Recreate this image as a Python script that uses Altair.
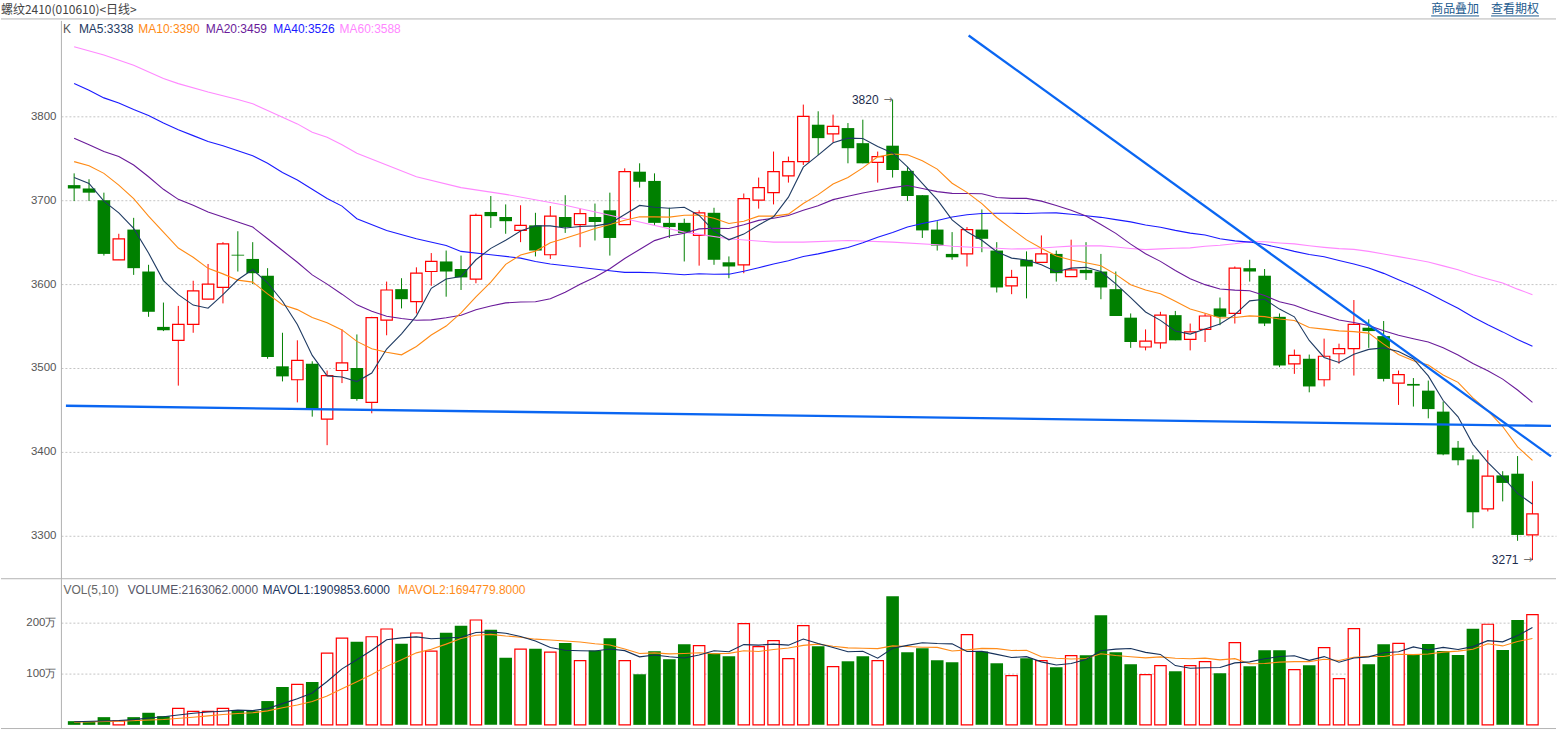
import altair as alt
import pandas as pd

# ---------------- data ----------------
opens = [3718, 3714, 3700, 3629, 3665, 3615, 3549, 3533, 3552, 3582,
         3596, 3635, 3630, 3610, 3502, 3486, 3505, 3439, 3497, 3500,
         3459, 3557, 3594, 3579, 3615, 3627, 3618, 3606, 3686, 3680,
         3664, 3670, 3635, 3680, 3671, 3680, 3688, 3671, 3734, 3723,
         3673, 3673, 3658, 3685, 3626, 3623, 3700, 3709, 3729, 3746,
         3790, 3779, 3786, 3768, 3745, 3765, 3735, 3706, 3665, 3636,
         3636, 3665, 3640, 3598, 3629, 3626, 3636, 3609, 3617, 3615,
         3594, 3560, 3525, 3530, 3563, 3534, 3546, 3571, 3565, 3619,
         3610, 3561, 3505, 3511, 3486, 3517, 3523, 3548, 3538, 3482,
         3481, 3473, 3448, 3405, 3391, 3332, 3372, 3374, 3301]
highs = [3732, 3725, 3709, 3660, 3679, 3623, 3578, 3574, 3604, 3624,
         3650, 3663, 3650, 3619, 3542, 3533, 3508, 3497, 3546, 3540,
         3561, 3603, 3607, 3620, 3637, 3640, 3634, 3684, 3705, 3695,
         3694, 3685, 3693, 3706, 3690, 3696, 3709, 3738, 3744, 3732,
         3691, 3678, 3688, 3691, 3633, 3708, 3727, 3758, 3752, 3814,
         3806, 3802, 3792, 3796, 3758, 3820, 3740, 3706, 3675, 3662,
         3668, 3689, 3650, 3617, 3639, 3658, 3640, 3653, 3650, 3636,
         3615, 3565, 3546, 3567, 3568, 3553, 3565, 3584, 3621, 3629,
         3618, 3565, 3522, 3516, 3535, 3529, 3581, 3558, 3556, 3497,
         3488, 3485, 3460, 3413, 3396, 3402, 3377, 3395, 3365]
lows = [3699, 3699, 3634, 3629, 3611, 3561, 3544, 3479, 3542, 3582,
        3577, 3615, 3600, 3511, 3484, 3459, 3442, 3408, 3482, 3461,
        3446, 3539, 3571, 3565, 3598, 3585, 3593, 3601, 3667, 3660,
        3650, 3633, 3630, 3661, 3644, 3652, 3634, 3671, 3715, 3670,
        3655, 3627, 3622, 3623, 3607, 3613, 3690, 3695, 3721, 3742,
        3754, 3769, 3744, 3744, 3721, 3727, 3699, 3655, 3640, 3629,
        3621, 3638, 3590, 3588, 3583, 3626, 3603, 3609, 3605, 3582,
        3562, 3524, 3521, 3523, 3533, 3521, 3531, 3551, 3553, 3603,
        3550, 3501, 3493, 3471, 3478, 3505, 3491, 3524, 3484, 3456,
        3454, 3440, 3396, 3384, 3309, 3329, 3341, 3294, 3271]
closes = [3714, 3709, 3636, 3654, 3619, 3567, 3545, 3552, 3592, 3600,
          3648, 3634, 3613, 3513, 3490, 3509, 3450, 3491, 3506, 3463,
          3560, 3593, 3582, 3613, 3627, 3615, 3608, 3682, 3681, 3675,
          3670, 3640, 3681, 3668, 3684, 3674, 3655, 3734, 3722, 3673,
          3668, 3661, 3685, 3629, 3621, 3702, 3715, 3734, 3746, 3800,
          3774, 3788, 3762, 3744, 3752, 3736, 3705, 3664, 3646, 3632,
          3665, 3654, 3596, 3608, 3621, 3636, 3613, 3617, 3613, 3596,
          3562, 3531, 3532, 3563, 3533, 3543, 3562, 3561, 3619, 3615,
          3553, 3503, 3515, 3478, 3514, 3523, 3552, 3544, 3487, 3492,
          3479, 3451, 3397, 3390, 3328, 3371, 3363, 3301, 3326]
# volume in 万 (10k lots)
volumes = [7.2, 5.9, 15.1, 7.9, 15.1, 23.7, 17.1, 32.2, 26.3, 26.3,
           32.2, 27.6, 27.6, 46.7, 74.3, 79.6, 84.2, 140.8, 170.4, 163.2,
           173.0, 188.2, 159.2, 180.3, 144.7, 180.9, 194.7, 205.9, 186.8, 131.6,
           148.7, 149.3, 142.6, 160.6, 126.1, 145.8, 169.9, 126.1, 99.3, 144.4,
           128.8, 158.2, 155.6, 140.5, 134.6, 198.7, 153.6, 165.4, 130.1, 194.8,
           154.2, 114.4, 124.8, 134.6, 126.1, 252.3, 142.5, 150.3, 126.8, 122.9,
           177.1, 143.8, 120.9, 96.7, 130.7, 126.1, 113.1, 135.9, 136.6, 215.0,
           142.5, 119.0, 98.7, 116.3, 105.2, 116.3, 124.2, 101.3, 161.4, 115.0,
           146.4, 146.4, 108.5, 117.0, 151.6, 90.8, 188.9, 119.0, 158.2, 160.0,
           139.0, 158.5, 145.0, 137.0, 188.5, 197.5, 147.0, 206.0, 216.3]

ma5_early_i = [0, 1, 2, 3]
ma5_early_v = [3727, 3720, 3699, 3685]
ma10_early_i = [0, 1, 2, 3, 4, 5, 6, 7, 8]
ma10_early_v = [3746, 3741, 3732, 3718, 3702, 3681, 3662, 3643, 3632]
ma20_early_i = list(range(19))
ma20_early_v = [3774, 3766, 3758, 3752, 3742, 3728, 3713, 3701, 3694, 3686,
                3680, 3674, 3668, 3654, 3640, 3626, 3611, 3600, 3588]
ma40_early_i = [0, 1, 2, 3, 4, 5, 6, 7, 8, 9, 10, 11, 12, 13, 14, 15, 16, 17, 18, 19,
                21, 23, 25, 26, 28, 30, 31, 32, 36, 37, 38]
ma40_early_v = [3839, 3831, 3822, 3816, 3808, 3801, 3792, 3784, 3777, 3770, 3765, 3759,
                3753, 3744, 3733, 3724, 3713, 3702, 3693, 3678,
                3664, 3654, 3646, 3639, 3635, 3631, 3627, 3624, 3616, 3614, 3614]
ma60_early_i = [0, 2, 4, 6, 7, 9, 11, 12, 13, 14, 15, 16, 17, 18, 19,
                21, 23, 26, 29, 33, 36, 38, 41, 44, 47, 49, 52, 55, 58]
ma60_early_v = [3883, 3873, 3861, 3845, 3839, 3829, 3820, 3815, 3807, 3799, 3791, 3781,
                3775, 3766, 3756, 3742, 3728, 3715, 3707, 3694, 3682, 3674, 3662, 3654,
                3650, 3650, 3652, 3650, 3647]
mavol1_early_i = [0, 3]
mavol1_early_v = [6.0, 8.6]
mavol2_early_i = [0, 3, 6, 8]
mavol2_early_v = [5.3, 7.2, 10.5, 15.0]

# drawn trend lines (bar index, price)
trend_i = [-0.553, 99.247, 60.11, 99.247]
trend_p = [3455.0, 3431.0, 3896.4, 3394.6]
trend_g = ["h", "h", "d", "d"]

price_ticks = [3300, 3400, 3500, 3600, 3700, 3800]
vol_ticks = [100, 200]

# ---------------- layout ----------------
W, HP, HV = 1497, 559, 150
FONT = "Liberation Sans"
GREEN, RED = "#008000", "#ff0000"
C_MA5, C_MA10, C_MA20, C_MA40, C_MA60 = "#1f3b63", "#ff8a14", "#6a1b9a", "#1a1aff", "#ff88ff"

n = len(closes)
df = pd.DataFrame({"i": list(range(n)), "open": opens, "high": highs, "low": lows,
                   "close": closes, "vol": volumes})
df["up"] = df["close"] > df["open"]
df["zero"] = 0.0

xs = alt.Scale(domain=[-0.553, 99.247], nice=False, zero=False)
ysp = alt.Scale(domain=[3248.8, 3914.3], nice=False, zero=False)
ysv = alt.Scale(domain=[-7.25, 286.9], nice=False, zero=False)
X = alt.X("i:Q", scale=xs, axis=None)

AX_P = alt.Axis(values=price_ticks, format="d", grid=True, gridDash=[2, 2], gridColor="#c4c4c4",
                domainColor="#b0b0b0", ticks=False, labelPadding=5, labelFontSize=11.5,
                labelFont=FONT, labelColor="#555555", title=None)
AX_V = alt.Axis(values=vol_ticks, labelExpr="datum.value + '万'", grid=True, gridDash=[2, 2],
                gridColor="#c4c4c4", domainColor="#b0b0b0", ticks=False, labelPadding=5,
                labelFontSize=11.5, labelFont=FONT, labelColor="#555555", title=None)


def YP(field):
    return alt.Y(field, scale=ysp, axis=AX_P)


def YV(field):
    return alt.Y(field, scale=ysv, axis=AX_V)


s_close = pd.Series(closes, dtype=float)
s_vol = pd.Series(volumes, dtype=float)


def ma_frame(name, series, win, ei, ev):
    comp = series.rolling(win).mean()
    ii = list(ei) + list(range(win - 1, n))
    vv = list(ev) + [float(comp[k]) for k in range(win - 1, n)]
    return pd.DataFrame({"i": ii, "v": vv, "s": name})


ma_df = pd.concat([
    ma_frame("MA60", s_close, 60, ma60_early_i, ma60_early_v),
    ma_frame("MA40", s_close, 40, ma40_early_i, ma40_early_v),
    ma_frame("MA20", s_close, 20, ma20_early_i, ma20_early_v),
    ma_frame("MA10", s_close, 10, ma10_early_i, ma10_early_v),
    ma_frame("MA5", s_close, 5, ma5_early_i, ma5_early_v),
])
mv_df = pd.concat([
    ma_frame("MAVOL2", s_vol, 10, mavol2_early_i, mavol2_early_v),
    ma_frame("MAVOL1", s_vol, 5, mavol1_early_i, mavol1_early_v),
])


def label(text, px, py, color, size=12, font=FONT, align="left"):
    return alt.Chart(pd.DataFrame({"t": [text]})).mark_text(
        align=align, baseline="middle", font=font, fontSize=size, color=color
    ).encode(text="t:N", x=alt.value(px), y=alt.value(py))


def hline(px1, px2, py, color="#b4b4b4", w=1.0):
    return alt.Chart(pd.DataFrame({"a": [0]})).mark_rule(color=color, strokeWidth=w).encode(
        x=alt.value(px1), x2=alt.value(px2), y=alt.value(py))


base = alt.Chart(df)

wick = base.mark_rule(strokeWidth=1).encode(
    x=X, y=YP("low:Q"), y2="high:Q",
    color=alt.condition("datum.up", alt.value(RED), alt.value(GREEN)),
)
body_dn = base.transform_filter("!datum.up").mark_bar(size=12.6, color=GREEN).encode(
    x=X, y=YP("open:Q"), y2="close:Q")
body_up = base.transform_filter("datum.up").mark_bar(
    size=11.4, fill="white", stroke=RED, strokeWidth=1.2).encode(
    x=X, y=YP("open:Q"), y2="close:Q")

ma_lines = alt.Chart(ma_df).mark_line(strokeWidth=1.1).encode(
    x=X, y=YP("v:Q"),
    color=alt.Color("s:N", legend=None, scale=alt.Scale(
        domain=["MA5", "MA10", "MA20", "MA40", "MA60"],
        range=[C_MA5, C_MA10, C_MA20, C_MA40, C_MA60])),
    detail="s:N",
)

trend = alt.Chart(pd.DataFrame({"i": trend_i, "p": trend_p, "g": trend_g})).mark_line(
    color="#0a66f2", strokeWidth=2.3).encode(x=X, y=YP("p:Q"), detail="g:N")

ann_df = pd.DataFrame({"i": [55, 98], "p": [3820, 3271], "t": ["3820", "3271"]})
ann_txt = alt.Chart(ann_df).mark_text(align="right", baseline="middle", dx=-14,
                                      font=FONT, fontSize=12, color="#1c2c4c").encode(
    x=X, y=YP("p:Q"), text="t:N")
ann_arrow = alt.Chart(ann_df).mark_text(align="right", baseline="middle", dx=0, text="→",
                                        font="DejaVu Sans", fontSize=11, color="#707070").encode(
    x=X, y=YP("p:Q"))

price_headers = [
    hline(-60, W, -19.5, "#ffffff", 1),  # invisible top edge keeps the 20px header band
    label("螺纹2410(010610)<日线>", -60, -10.5, "#444444", font="Noto Sans CJK SC"),
    label("商品叠加", 1372, -11.5, "#1c5a8e", font="Noto Sans CJK SC"),
    label("查看期权", 1432, -11.5, "#1c5a8e", font="Noto Sans CJK SC"),
    hline(1372, 1420, -4.5, "#1c5a8e", 1),
    hline(1432, 1480, -4.5, "#1c5a8e", 1),
    hline(-60, W, -1.5),
    label("K", 2, 8.5, "#555555"),
    label("MA5:3338", 18, 8.5, C_MA5),
    label("MA10:3390", 77.5, 8.5, C_MA10),
    label("MA20:3459", 145, 8.5, C_MA20),
    label("MA40:3526", 212.7, 8.5, C_MA40),
    label("MA60:3588", 279, 8.5, C_MA60),
]

price = alt.layer(wick, body_dn, body_up, ma_lines, trend, ann_txt, ann_arrow,
                  *price_headers).properties(width=W, height=HP)

vbase = alt.Chart(df)
vbar_dn = vbase.transform_filter("!datum.up").mark_bar(size=12.6, color=GREEN).encode(
    x=X, y=YV("vol:Q"), y2="zero:Q")
vbar_up = vbase.transform_filter("datum.up").mark_bar(
    size=11.4, fill="white", stroke=RED, strokeWidth=1.2).encode(
    x=X, y=YV("vol:Q"), y2="zero:Q")
mv_lines = alt.Chart(mv_df).mark_line(strokeWidth=1.1).encode(
    x=X, y=YV("v:Q"),
    color=alt.Color("s:N", legend=None, scale=alt.Scale(
        domain=["MAVOL1", "MAVOL2"], range=["#14305a", "#ff8c1a"])),
    detail="s:N")

vol_headers = [
    hline(-60, W, 0),
    hline(-60, W, HV),
    label("VOL(5,10)", 2.5, 11.5, "#666666"),
    label("VOLUME:2163062.0000", 66.8, 11.5, "#555566"),
    label("MAVOL1:1909853.6000", 201.8, 11.5, "#1b3560"),
    label("MAVOL2:1694779.8000", 337.5, 11.5, "#ff8c1a"),
]

vol = alt.layer(vbar_dn, vbar_up, mv_lines, *vol_headers).properties(width=W, height=HV)

chart = alt.vconcat(price, vol, spacing=0, bounds="flush").properties(
    padding={"left": 0, "top": 0, "right": 0, "bottom": 0},
    background="white",
).resolve_scale(color="independent").configure_view(stroke=None)

chart.save("out.html", embed_options={"renderer": "svg", "actions": False})
